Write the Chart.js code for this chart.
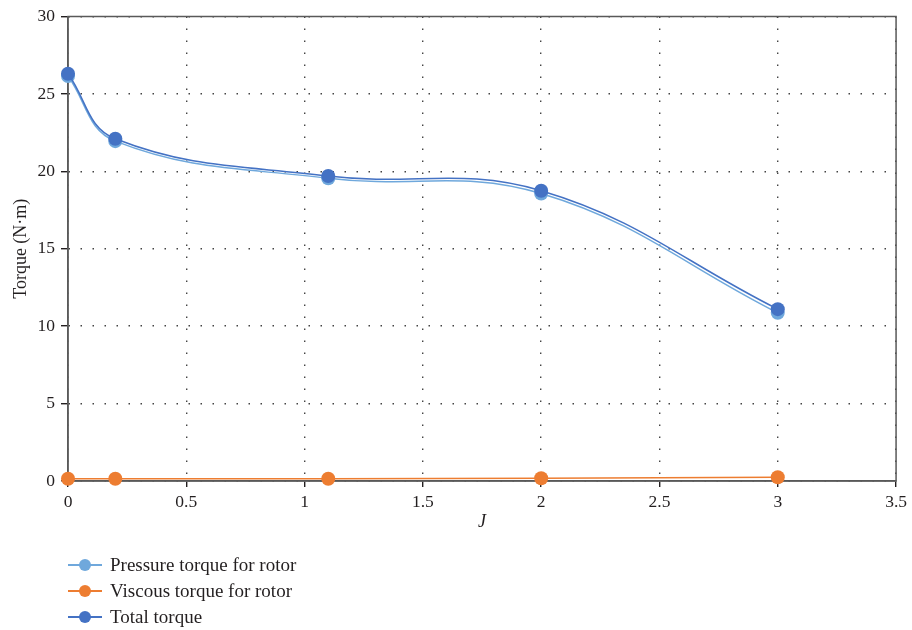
<!DOCTYPE html>
<html>
<head>
<meta charset="utf-8">
<script src="https://cdn.jsdelivr.net/npm/chart.js@4"></script>
<style>
body { margin:0; background:#fff; }
#wrap { position:relative; width:912px; height:630px; }
#legend { position:absolute; left:68px; top:552px; font-family:"Liberation Serif", serif; font-size:19px; color:#231f20; }
.item { height:26px; display:flex; align-items:center; }
.key { position:relative; width:34px; height:12px; margin-right:8px; }
.key .ln { position:absolute; left:0; right:0; top:5px; height:2px; }
.key .dot { position:absolute; left:11px; top:0; width:12px; height:12px; border-radius:50%; }
</style>
</head>
<body>
<div id="wrap">
  <canvas id="myChart" width="912" height="630"></canvas>
  <div id="legend"></div>
</div>
<script>
var jValues = [0, 0.2, 1.1, 2, 3];
var pressureTorque = [26.15, 21.95, 19.55, 18.57, 10.86];
var viscousTorque = [0.15, 0.15, 0.15, 0.18, 0.24];
var totalTorque = [26.3, 22.1, 19.7, 18.75, 11.1];
var seriesNames = ['Pressure torque for rotor', 'Viscous torque for rotor', 'Total torque'];
var seriesColors = ['#6fa8dc', '#ed7d31', '#4472c4'];

var axisColor = '#595959';
var serif = '"Liberation Serif", serif';

function toPoints(ys) {
  return jValues.map(function(x, i) { return {x: x, y: ys[i]}; });
}

// full box round the plot area
var frame = {
  id: 'frame',
  beforeDatasetsDraw: function(chart) {
    var a = chart.chartArea;
    var ctx = chart.ctx;
    ctx.save();
    ctx.setLineDash([]);
    ctx.strokeStyle = axisColor;
    ctx.lineWidth = 1.5;
    ctx.strokeRect(a.left, a.top, a.right - a.left, a.bottom - a.top);
    ctx.restore();
  }
};

var datasets = [pressureTorque, viscousTorque, totalTorque].map(function(vals, i) {
  return {
    label: seriesNames[i],
    data: toPoints(vals),
    borderColor: seriesColors[i],
    backgroundColor: seriesColors[i],
    borderWidth: 1.5,
    pointRadius: 7,
    pointHoverRadius: 7,
    pointBorderWidth: 0,
    tension: 0.4,
    order: 2 - i,   // later series drawn on top
    clip: false
  };
});

function plainNumber(value) {
  return String(value);
}

var ctx = document.getElementById('myChart');
var myChart = new Chart(ctx, {
  type: 'line',
  data: { datasets: datasets },
  plugins: [frame],
  options: {
    responsive: false,
    animation: false,
    layout: { padding: { top: 14, right: 15, bottom: 97, left: 0 } },
    plugins: { legend: { display: false }, tooltip: { enabled: false } },
    scales: {
      x: {
        type: 'linear',
        min: 0,
        max: 3.5,
        afterFit: function(scale) { scale.height = 52; },
        ticks: { stepSize: 0.5, color: '#231f20', padding: 5, maxRotation: 0, callback: plainNumber,
                 font: { family: serif, size: 17.5 } },
        grid: { color: '#444444', lineWidth: 1.4, tickLength: 6,
                tickColor: '#231f20', tickBorderDash: [] },
        border: { color: axisColor, width: 1.5, dash: [1.5, 10.5] },
        title: { display: true, text: 'J', color: '#231f20', padding: { top: 0, bottom: 0 },
                 font: { family: serif, size: 18, style: 'italic' } }
      },
      y: {
        min: 0,
        max: 30,
        afterFit: function(scale) { scale.width = 68; },
        ticks: { stepSize: 5, color: '#231f20', padding: 6, callback: plainNumber,
                 font: { family: serif, size: 17.5 } },
        grid: { color: '#444444', lineWidth: 1.4, tickLength: 7,
                tickColor: '#231f20', tickBorderDash: [] },
        border: { color: axisColor, width: 1.5, dash: [1.5, 10.5] },
        title: { display: true, text: 'Torque (N·m)', color: '#231f20', padding: { top: 10, bottom: 0 },
                 font: { family: serif, size: 18 } }
      }
    }
  }
});

// legend below the chart, one row per series
var legend = document.getElementById('legend');
seriesNames.forEach(function(name, i) {
  var item = document.createElement('div');
  item.className = 'item';
  item.innerHTML = '<span class="key"><span class="ln" style="background:' + seriesColors[i] + '"></span>' +
    '<span class="dot" style="background:' + seriesColors[i] + '"></span></span><span>' + name + '</span>';
  legend.appendChild(item);
});
</script>
</body>
</html>
